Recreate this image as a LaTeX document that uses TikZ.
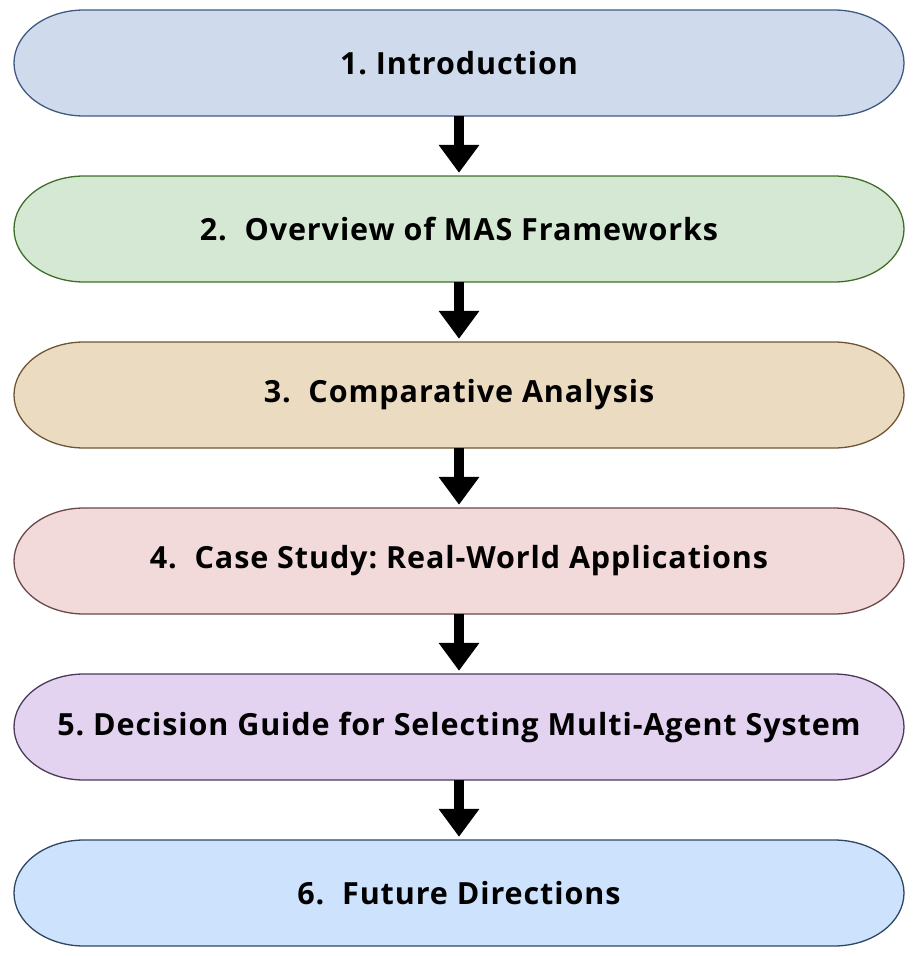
\documentclass[tikz,border=0pt]{standalone}
\usepackage{fontspec}
\setmainfont{Open Sans}[LetterSpace=3]
\usepackage{xcolor}
\usetikzlibrary{arrows.meta,positioning,calc}
\definecolor{introfill}{HTML}{CFDBEC}\definecolor{introline}{HTML}{3E5A82}
\definecolor{ovfill}{HTML}{D5E8D4}\definecolor{ovline}{HTML}{3F6E2A}
\definecolor{compfill}{HTML}{EBDBC0}\definecolor{compline}{HTML}{6E5634}
\definecolor{casefill}{HTML}{F2D9DA}\definecolor{caseline}{HTML}{6A4848}
\definecolor{decfill}{HTML}{E3D3F0}\definecolor{decline}{HTML}{4B3B5A}
\definecolor{futfill}{HTML}{CCE2FD}\definecolor{futline}{HTML}{2F4560}
\frenchspacing
\tikzset{
    stage/.style={minimum width=890pt,minimum height=106pt,inner sep=0pt,
        font=\fontsize{30.5}{36}\selectfont\bfseries},
    pill/.style={line width=1.3pt},
    flow/.style={line width=10pt,-{Triangle[length=28pt,width=39pt]},shorten >=3pt}
}
\begin{document}
\begin{tikzpicture}[x=1pt,y=1pt]
  \useasboundingbox (0,0) rectangle (916,-956);
  % six stages, top to bottom, each a pill with elliptic ends
  \foreach \i/\y/\col/\txt in {
      1/-63/intro/{1. Introduction},
      2/-229/ov/{2.~~Overview of MAS Frameworks},
      3/-395/comp/{3.~~Comparative Analysis},
      4/-561/case/{4.~~Case Study: Real-World Applications},
      5/-727/dec/{5. Decision Guide for Selecting Multi-Agent System},
      6/-893/fut/{6.~~Future Directions}} {
    \filldraw[pill,fill=\col fill,draw=\col line]
      (84,\y+53) -- (834,\y+53)
      arc[start angle=90,end angle=-90,x radius=70,y radius=53]
      -- (84,\y-53)
      arc[start angle=270,end angle=90,x radius=70,y radius=53] -- cycle;
    \node[stage] (s\i) at (459,\y) {\txt};
  }
  % arrows between stages
  \foreach \a/\b in {1/2,2/3,3/4,4/5,5/6}
    \draw[flow] (s\a.south) -- (s\b.north);
\end{tikzpicture}
\end{document}
